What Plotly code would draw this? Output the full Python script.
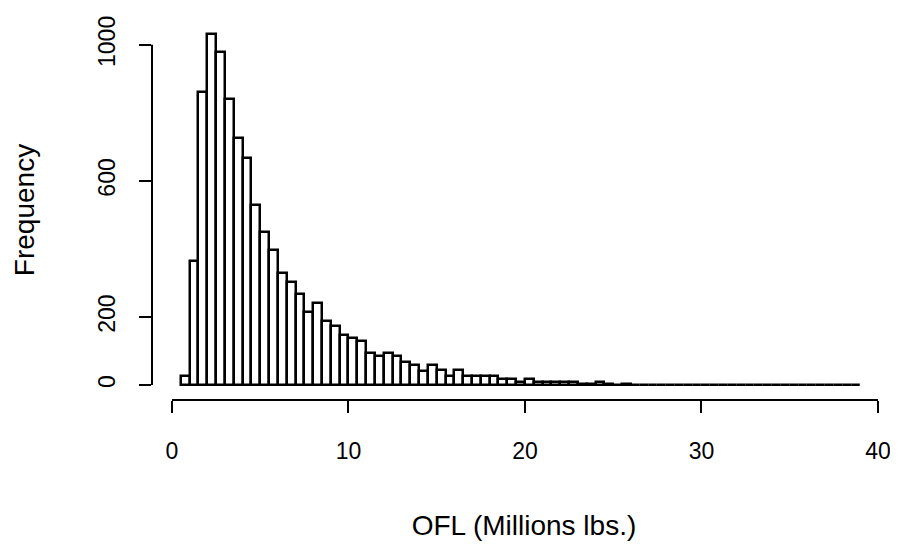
import plotly.graph_objects as go

bin_left = [0.5 + 0.5 * i for i in range(77)]
counts = [26, 366, 860, 1032, 979, 841, 727, 668, 530, 450, 397, 328, 302, 268, 215, 240,
          189, 174, 148, 138, 130,
          95, 85, 95, 85, 68, 59, 42, 59, 44, 26, 44, 26, 26, 26, 26, 18, 18, 10, 18, 10,
          8, 8, 8, 8, 2, 2, 10, 2, 1, 2, 1, 1, 1, 1, 0, 1, 1, 0, 1, 1,
          0, 1, 0, 0, 1, 0, 0, 0, 1, 0, 0, 0, 0, 0, 0, 1]
centers = [b + 0.25 for b in bin_left]

fig = go.Figure(go.Bar(x=centers, y=counts, width=0.5,
                       marker=dict(color="white", line=dict(color="black", width=2.5))))
font = dict(family="Liberation Sans, Arial", size=23, color="black")
fig.update_layout(
    width=898, height=549, plot_bgcolor="white", paper_bgcolor="white",
    margin=dict(l=144, r=10, t=12, b=157), showlegend=False, font=font, bargap=0,
    xaxis=dict(range=[-1.13, 41.02], tickvals=[0, 10, 20, 30, 40], ticks="outside",
               ticklen=12, tickwidth=2, tickcolor="black", showgrid=False, zeroline=False,
               showline=False, automargin=False, ticklabelstandoff=18,
               title=dict(text="OFL (Millions lbs.)", standoff=52)),
    yaxis=dict(range=[-44, 1073], tickvals=[0, 200, 600, 1000], ticks="outside",
               ticklen=12, tickwidth=2, tickcolor="black", showgrid=False, zeroline=False,
               showline=False, tickangle=-90, automargin=False, ticklabelstandoff=15,
               title=dict(text="Frequency", standoff=50)),
)
fig.add_shape(type="line", xref="x", yref="paper", x0=0, x1=40, y0=0, y1=0,
              line=dict(color="black", width=2))
fig.add_shape(type="line", xref="paper", yref="y", x0=0, x1=0, y0=0, y1=1000,
              line=dict(color="black", width=2))
fig.write_html("out.html")
